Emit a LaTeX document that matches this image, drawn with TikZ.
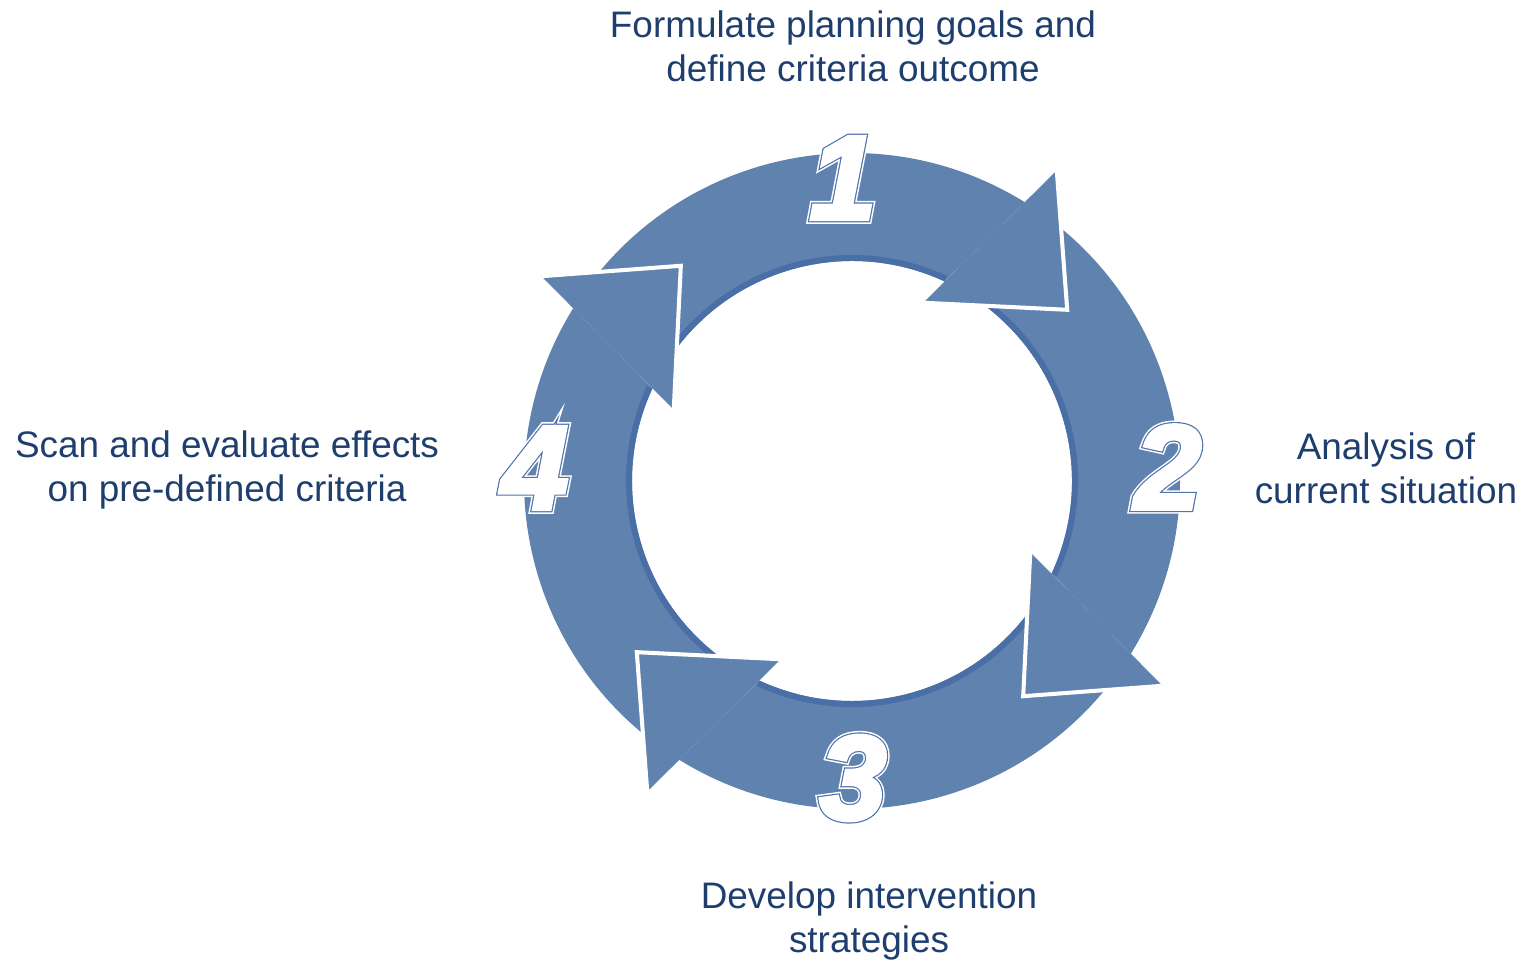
\documentclass[tikz,border=0pt]{standalone}
\usepackage{fontspec}
\setmainfont{Liberation Sans}
\newfontface\numOuter{Liberation Sans Bold Italic}[FakeBold=8]
\newfontface\numLine{Liberation Sans Bold Italic}[FakeBold=5.5]
\newfontface\numFace{Liberation Sans Bold Italic}[FakeBold=3.5]
\usetikzlibrary{positioning}
\definecolor{cycBlue}{HTML}{6082AF}
\definecolor{cycRim}{HTML}{4A6EA6}
\definecolor{cycText}{HTML}{1E3F6E}
\definecolor{cycNumLine}{HTML}{4F74AA}
\tikzset{
  cycbody/.style={fill=cycBlue},
  cycrim/.style={draw=cycRim, line width=3.4pt},
  cychead/.style={fill=cycBlue},
  cycedge/.style={draw=white, line width=2.3pt, line join=miter},
  steplabel/.style={font=\fontsize{21}{25}\selectfont, text=cycText,
                    align=center, inner sep=0pt},
  stepnum/.style={inner sep=0pt},
}
\begin{document}
\begin{tikzpicture}[x=0.02cm, y=0.02cm]
\useasboundingbox (0,0) rectangle (1523,960);
\def\rOut{328}  % outer radius of the ring
\def\rIn{220}   % inner radius of the ring

%% Arrow bodies
\foreach \k in {0,1,2,3} {
  \begin{scope}[shift={(852,479)}, rotate=-90*\k]
    \path[cycbody] (144:\rOut) arc[start angle=144, end angle=58.2, radius=\rOut]
      -- (65.1:\rIn) arc[start angle=65.1, end angle=144, radius=\rIn] -- cycle;
  \end{scope}
}

%% Inner rims
\foreach \k in {0,1,2,3} {
  \begin{scope}[shift={(852,479)}, rotate=-90*\k]
    \draw[cycrim] (65.1:223) arc[start angle=65.1, end angle=144, radius=223];
  \end{scope}
}

%% Arrow heads
\foreach \k in {0,1,2,3} {
  \begin{scope}[shift={(852,479)}, rotate=-90*\k]
    \path[cychead] (56.6:372) -- (38.5:275) -- (68.2:192) -- cycle;
    \draw[cycedge] (56.6:372) -- (38.5:275) -- (68.2:192);
  \end{scope}
}

%% Step numbers (white border, blue line, white face)
\foreach \d/\px/\py in {1/843/782, 2/1168/493, 3/853/182, 4/535/492} {
  \node[stepnum, font=\numOuter\fontsize{68}{68}\selectfont, text=white] (nb\d) at (\px,\py) {\d};
  \node[stepnum, font=\numLine\fontsize{68}{68}\selectfont, text=cycNumLine] (nl\d) at (\px,\py) {\d};
  \node[stepnum, font=\numFace\fontsize{68}{68}\selectfont, text=white] (n\d) at (\px,\py) {\d};
}

%% Step labels
\node[steplabel] (goals) at (853,914) {Formulate planning goals and\\define criteria outcome};
\node[steplabel] (analysis) at (1386,492) {Analysis of\\current situation};
\node[steplabel] (develop) at (869,39) {Develop intervention\\strategies};
\node[steplabel] (scan) at (227,490) {Scan and evaluate effects\\on pre-defined criteria};
\end{tikzpicture}
\end{document}
